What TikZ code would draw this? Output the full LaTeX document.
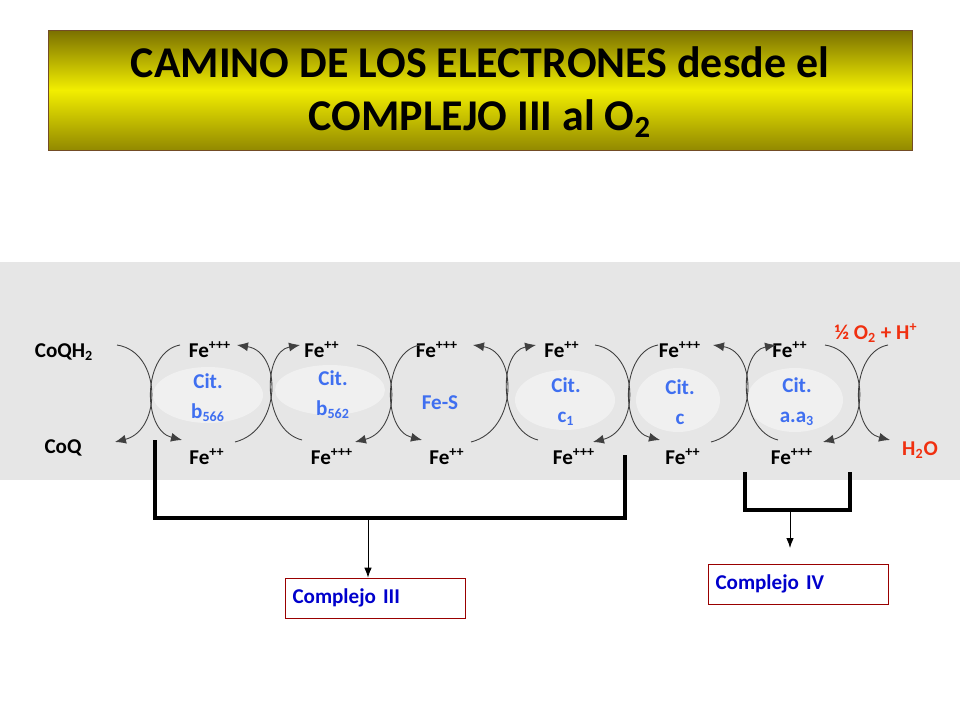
\documentclass[tikz,border=0pt]{standalone}
\usepackage{fontspec}
\setmainfont{Carlito}
\usetikzlibrary{arrows.meta,positioning}
\definecolor{bandgray}{HTML}{E6E6E6}
\definecolor{ellgray}{HTML}{F0F0F0}
\definecolor{citblue}{HTML}{3F6FF0}
\definecolor{oxred}{HTML}{F03010}
\definecolor{olive}{HTML}{7A7000}
\definecolor{ttlyellow}{HTML}{F2EE00}
\tikzset{
  fe/.style={font=\bfseries\fontsize{12}{13}\selectfont, inner sep=1pt},
  cit/.style={font=\bfseries\fontsize{12}{17}\selectfont, text=citblue, align=center, inner sep=1pt},
  redlab/.style={fe, text=oxred},
  kiss/.style={line width=0.5pt, black!75},
  tip/.style={-{Latex[length=2.2mm,width=1.8mm]}},
  bracket/.style={line width=1.8pt},
  cbox/.style={draw=red!60!black, line width=0.4pt, minimum width=3.6cm, minimum height=0.8cm,
    text width=3.3cm, font=\bfseries\fontsize{12}{13}\selectfont, text=blue!80!black},
}
\begin{document}
\begin{tikzpicture}[x=0.02cm,y=-0.02cm]
\useasboundingbox (0,0) rectangle (960,720);
\fill[white] (0,0) rectangle (960,720);

% title
\shade[top color=olive, bottom color=olive!80!ttlyellow, middle color=ttlyellow] (48,30) rectangle (912,150);
\draw[brown!60!black, line width=0.5pt] (48,30) rectangle (912,150);
\node[font=\bfseries\fontsize{25}{30}\selectfont, align=center] (title) at (480,92)
  {CAMINO DE LOS ELECTRONES desde el\\COMPLEJO III al O\textsubscript{2}};

% band
\fill[bandgray] (0,262) rectangle (960,480);
\foreach \ex/\ey/\rx/\ry in {208/395/55/28, 330/390/55/25, 565/400/50/30, 678/400/42/32, 795/400/48/32}
  \fill[ellgray] (\ex,\ey) ellipse[x radius=\rx, y radius=\ry];

% labels
\node[fe] (coqh) at (64,352) {CoQH\textsubscript{2}};
\node[fe] (coq) at (63,448) {CoQ};
\foreach \n/\x/\t in {ta/210/+++, tb/322/++, tc/437/+++, td/562/++, te/680/+++, tf/790/++}
  \node[fe] (\n) at (\x,350) {Fe\textsuperscript{\t}};
\foreach \n/\x/\t in {ba/207/++, bb/332/+++, bc/447/++, bd/574/+++, be/683/++, bf/792/+++}
  \node[fe] (\n) at (\x,457) {Fe\textsuperscript{\t}};
\node[redlab] (oxy) at (876,333) {½ O\textsubscript{2} + H\textsuperscript{+}};
\node[redlab] (water) at (920,450) {H\textsubscript{2}O};

\node[cit] (b566) at (208,398) {Cit.\\b\textsubscript{566}};
\node[cit] (b562) at (333,395) {Cit.\\b\textsubscript{562}};
\node[cit] (fes) at (440,403) {Fe-S};
\node[cit] (c1) at (566,402) {Cit.\\c\textsubscript{1}};
\node[cit] (cc) at (680,402) {Cit.\\c};
\node[cit] (aa3) at (797,402) {Cit.\\a.a\textsubscript{3}};

% kissing arcs: d = top to bottom, u = bottom to top
\foreach \cx/\dir in {152/d, 272/u, 392/d, 508/u, 630/d, 748/u, 860/d} {
  \coordinate (lt\cx) at (\cx-35,345);
  \coordinate (lb\cx) at (\cx-37,442);
  \coordinate (rt\cx) at (\cx+28,345);
  \coordinate (rb\cx) at (\cx+30,440);
  \if\dir d
    \draw[kiss,tip] (lt\cx) .. controls (\cx+10,352) and (\cx+10,430) .. (lb\cx);
    \draw[kiss,tip] (rt\cx) .. controls (\cx-10,352) and (\cx-10,430) .. (rb\cx);
  \else
    \draw[kiss,tip] (lb\cx) .. controls (\cx+10,430) and (\cx+10,352) .. (lt\cx);
    \draw[kiss,tip] (rb\cx) .. controls (\cx-10,430) and (\cx-10,352) .. (rt\cx);
  \fi
}

% complejo III
\coordinate (k3a) at (155,440);
\coordinate (k3b) at (625,455);
\coordinate (k3m) at (368,518);
\draw[bracket] (k3a) |- (k3b |- k3m) -- (k3b);
\node[cbox] (cIII) at (375,598) {Complejo III};
\draw[-{Latex[length=2mm,width=1.5mm]}, line width=0.5pt] (k3m) -- (cIII.north -| k3m);

% complejo IV
\coordinate (k4a) at (745,472);
\coordinate (k4b) at (850,472);
\coordinate (k4m) at (790,510);
\draw[bracket] (k4a) |- (k4b |- k4m) -- (k4b);
\node[cbox] (cIV) at (798,584) {Complejo IV};
\draw[-{Latex[length=2mm,width=1.5mm]}, line width=0.5pt] (k4m) -- ++(0,38);
\end{tikzpicture}
\end{document}
